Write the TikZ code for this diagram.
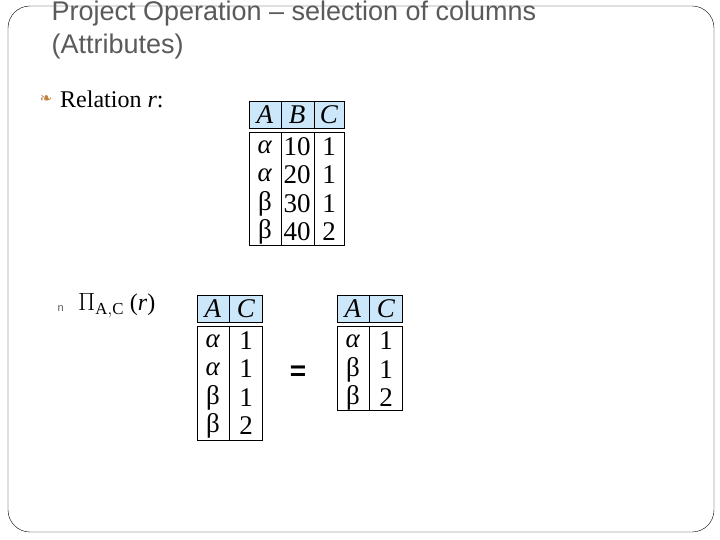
\documentclass[tikz,border=0pt]{standalone}
\usepackage{fontspec}
\setmainfont{Liberation Serif}
\newfontfamily\titlefont{Liberation Sans}
\newfontfamily\dingfont{DejaVu Sans}
\usetikzlibrary{positioning}
\definecolor{hdrblue}{RGB}{204,230,250}
\definecolor{titlegray}{RGB}{90,90,90}
\begin{document}
\begin{tikzpicture}[x=1pt,y=-1pt,
  cell/.style={font=\fontsize{27}{27}\selectfont,inner sep=0pt},
  hdr/.style={draw,thick,fill=hdrblue},
  body/.style={draw,thick}]
\useasboundingbox (0,0) rectangle (720,540);
\draw[rounded corners=22] (8,6) rectangle (714,532);

% title
\node[anchor=west,text=titlegray,font=\titlefont\fontsize{27}{27}\selectfont] (t1) at (48,14) {Project Operation – selection of columns};
\node[anchor=west,text=titlegray,font=\titlefont\fontsize{27}{27}\selectfont] (t2) at (48,47) {(Attributes)};

\node[anchor=west,text=brown,font=\dingfont\fontsize{15}{15}\selectfont] (b1) at (36,99) {❧};
\node[anchor=west,inner sep=0pt,font=\fontsize{24}{24}\selectfont] (rel) at (60,99) {Relation \textit{r}:};
\node[anchor=west,text=titlegray,font=\titlefont\fontsize{11}{11}\selectfont] (b2) at (54,309) {n};
\node[anchor=west,inner sep=0pt,font=\fontsize{24}{24}\selectfont] (proj) at (78,306) {$\Pi_{\mathrm{A,C}}$ (\textit{r})};

% relation r
\draw[hdr] (249,101) rectangle (344,128);
\draw[thick] (281,101) -- (281,128) (314,101) -- (314,128);
\draw[body] (249,132) rectangle (344,245);
\draw[thick] (281,132) -- (281,245) (314,132) -- (314,245);
\node[cell] (rA) at (265,115) {\textit{A}};
\node[cell] (rB) at (297,115) {\textit{B}};
\node[cell] (rC) at (329,115) {\textit{C}};
\foreach \y/\a/\b/\c [count=\i] in {147/\textit{α}/10/1,175/\textit{α}/20/1,204/β/30/1,232/β/40/2} {
  \node[cell] (ra\i) at (265,\y) {\a};
  \node[cell] (rb\i) at (297,\y) {\b};
  \node[cell] (rc\i) at (329,\y) {\c};
}

% projection before removing duplicates
\draw[hdr] (197,295) rectangle (262,322);
\draw[thick] (229,295) -- (229,322);
\draw[body] (197,326) rectangle (262,440);
\draw[thick] (229,326) -- (229,440);
\node[cell] (pA) at (213,309) {\textit{A}};
\node[cell] (pC) at (246,309) {\textit{C}};
\foreach \y/\a/\c [count=\i] in {341/\textit{α}/1,369/\textit{α}/1,398/β/1,426/β/2} {
  \node[cell] (pa\i) at (213,\y) {\a};
  \node[cell] (pc\i) at (246,\y) {\c};
}

\node[cell,font=\titlefont\bfseries\fontsize{28}{28}\selectfont] (eq) at (298,373) {=};

% result
\draw[hdr] (337,295) rectangle (402,322);
\draw[thick] (369,295) -- (369,322);
\draw[body] (337,326) rectangle (402,410);
\draw[thick] (369,326) -- (369,410);
\node[cell] (qA) at (353,309) {\textit{A}};
\node[cell] (qC) at (386,309) {\textit{C}};
\foreach \y/\a/\c [count=\i] in {341/\textit{α}/1,370/β/1,398/β/2} {
  \node[cell] (qa\i) at (353,\y) {\a};
  \node[cell] (qc\i) at (386,\y) {\c};
}
\end{tikzpicture}
\end{document}
